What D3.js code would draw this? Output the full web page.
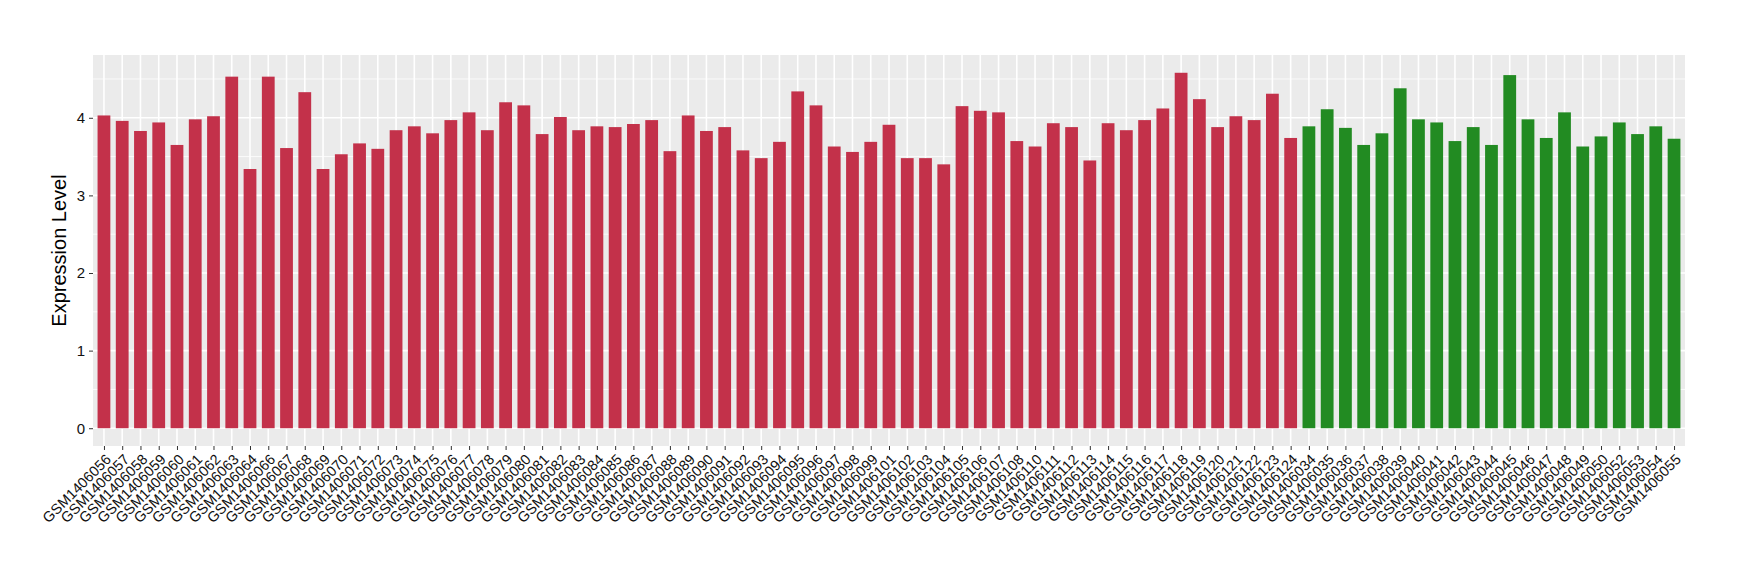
<!DOCTYPE html>
<html>
<head>
<meta charset="utf-8">
<script src="https://cdn.jsdelivr.net/npm/d3@7"></script>
<style>
  body { margin: 0; background: #fff; }
  svg text { font-family: "Liberation Sans", Arial, sans-serif; }
</style>
</head>
<body>
<svg id="chart"></svg>
<script>
// samples from the first group (red)
const redSamples = [
  "GSM1406056","GSM1406057","GSM1406058","GSM1406059","GSM1406060","GSM1406061","GSM1406062",
  "GSM1406063","GSM1406064","GSM1406066","GSM1406067","GSM1406068","GSM1406069","GSM1406070",
  "GSM1406071","GSM1406072","GSM1406073","GSM1406074","GSM1406075","GSM1406076","GSM1406077",
  "GSM1406078","GSM1406079","GSM1406080","GSM1406081","GSM1406082","GSM1406083","GSM1406084",
  "GSM1406085","GSM1406086","GSM1406087","GSM1406088","GSM1406089","GSM1406090","GSM1406091",
  "GSM1406092","GSM1406093","GSM1406094","GSM1406095","GSM1406096","GSM1406097","GSM1406098",
  "GSM1406099","GSM1406101","GSM1406102","GSM1406103","GSM1406104","GSM1406105","GSM1406106",
  "GSM1406107","GSM1406108","GSM1406110","GSM1406111","GSM1406112","GSM1406113","GSM1406114",
  "GSM1406115","GSM1406116","GSM1406117","GSM1406118","GSM1406119","GSM1406120","GSM1406121",
  "GSM1406122","GSM1406123","GSM1406124"
];
const redValues = [
  4.03, 3.96, 3.83, 3.94, 3.65, 3.98, 4.02,
  4.53, 3.34, 4.53, 3.61, 4.33, 3.34, 3.53,
  3.67, 3.60, 3.84, 3.89, 3.80, 3.97, 4.07,
  3.84, 4.20, 4.16, 3.79, 4.01, 3.84, 3.89,
  3.88, 3.92, 3.97, 3.57, 4.03, 3.83, 3.88,
  3.58, 3.48, 3.69, 4.34, 4.16, 3.63, 3.56,
  3.69, 3.91, 3.48, 3.48, 3.40, 4.15, 4.09,
  4.07, 3.70, 3.63, 3.93, 3.88, 3.45, 3.93,
  3.84, 3.97, 4.12, 4.58, 4.24, 3.88, 4.02,
  3.97, 4.31, 3.74
];

// samples from the second group (green)
const greenSamples = [
  "GSM1406034","GSM1406035","GSM1406036","GSM1406037","GSM1406038","GSM1406039","GSM1406040",
  "GSM1406041","GSM1406042","GSM1406043","GSM1406044","GSM1406045","GSM1406046","GSM1406047",
  "GSM1406048","GSM1406049","GSM1406050","GSM1406052","GSM1406053","GSM1406054","GSM1406055"
];
const greenValues = [
  3.89, 4.11, 3.87, 3.65, 3.80, 4.38, 3.98,
  3.94, 3.70, 3.88, 3.65, 4.55, 3.98, 3.74,
  4.07, 3.63, 3.76, 3.94, 3.79, 3.89, 3.73
];

const yTicks = [0, 1, 2, 3, 4];
const yMinorTicks = [0.5, 1.5, 2.5, 3.5, 4.5];

const data = redSamples.map((s, i) => ({ sample: s, value: redValues[i], group: "red" }))
  .concat(greenSamples.map((s, i) => ({ sample: s, value: greenValues[i], group: "green" })));

const width = 1740, height = 580;
const margin = { top: 55, right: 55, bottom: 134, left: 93 };
const innerW = width - margin.left - margin.right;
const innerH = height - margin.top - margin.bottom;

const svg = d3.select("#chart").attr("width", width).attr("height", height);
const chart = svg.append("g").attr("transform", `translate(${margin.left},${margin.top})`);

const colour = d3.scaleOrdinal().domain(["red", "green"]).range(["#C3314A", "#228B22"]);

const xScale = d3.scalePoint()
  .domain(data.map(d => d.sample))
  .range([0, innerW])
  .padding(0.6);
const barW = xScale.step() * 0.7;

const maxV = d3.max(data, d => d.value);
const yScale = d3.scaleLinear()
  .domain([-0.05 * maxV, maxV * 1.05])
  .range([innerH, 0]);

// panel background
chart.append("rect")
  .attr("width", innerW).attr("height", innerH)
  .attr("fill", "#EBEBEB");

// grid
chart.selectAll(".minor-y").data(yMinorTicks).join("line")
  .attr("x1", 0).attr("x2", innerW)
  .attr("y1", d => yScale(d)).attr("y2", d => yScale(d))
  .attr("stroke", "#fff").attr("stroke-width", 0.8);
chart.selectAll(".major-y").data(yTicks).join("line")
  .attr("x1", 0).attr("x2", innerW)
  .attr("y1", d => yScale(d)).attr("y2", d => yScale(d))
  .attr("stroke", "#fff").attr("stroke-width", 1.6);
chart.selectAll(".major-x").data(xScale.domain()).join("line")
  .attr("x1", d => xScale(d)).attr("x2", d => xScale(d))
  .attr("y1", 0).attr("y2", innerH)
  .attr("stroke", "#fff").attr("stroke-width", 1.6);

// bars
chart.selectAll(".bar").data(data).join("rect")
  .attr("class", "bar")
  .attr("x", d => xScale(d.sample) - barW / 2)
  .attr("width", barW)
  .attr("y", d => yScale(d.value))
  .attr("height", d => yScale(0) - yScale(d.value))
  .attr("fill", d => colour(d.group));

// axes
const yAxis = d3.axisLeft(yScale).tickValues(yTicks).tickFormat(d3.format("d")).tickSize(4).tickPadding(4);
const yAxisG = chart.append("g").call(yAxis).attr("font-family", null);
yAxisG.select(".domain").remove();
yAxisG.selectAll(".tick line").attr("stroke", "#333");
yAxisG.selectAll(".tick text").attr("fill", "#111").style("font-size", "15px");

const xAxis = d3.axisBottom(xScale).tickSize(4).tickPadding(0);
const xAxisG = chart.append("g").attr("transform", `translate(0,${innerH})`).call(xAxis).attr("font-family", null);
xAxisG.select(".domain").remove();
xAxisG.selectAll(".tick line").attr("stroke", "#333");
xAxisG.selectAll(".tick text")
  .attr("fill", "#111")
  .style("font-size", "14.5px")
  .attr("text-anchor", "end")
  .attr("transform", "translate(0,7) rotate(-45)")
  .attr("x", 0).attr("y", 0)
  .attr("dy", "0.72em");

// y label
svg.append("text")
  .attr("transform", `translate(66,${margin.top + innerH / 2}) rotate(-90)`)
  .attr("text-anchor", "middle")
  .style("font-size", "20px")
  .attr("fill", "#000")
  .text("Expression Level");
</script>
</body>
</html>
